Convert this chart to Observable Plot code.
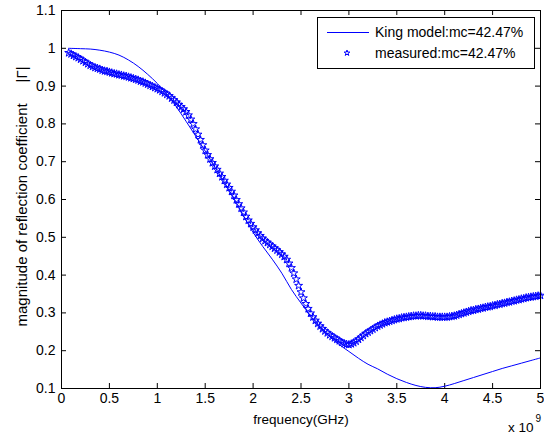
<!DOCTYPE html>
<html>
<head>
<meta charset="utf-8">
<script src="https://cdn.jsdelivr.net/npm/d3@7"></script>
<script src="https://cdn.jsdelivr.net/npm/@observablehq/plot@0.6"></script>
<style>
  html, body { margin: 0; padding: 0; background: #fff; }
  #chart { position: relative; width: 544px; height: 434px; }
</style>
</head>
<body>
<div id="chart"></div>
<script>
// ---- data (frequency in GHz; axis shows x 10^9 Hz) ----
const xTicks = [0, 0.5, 1, 1.5, 2, 2.5, 3, 3.5, 4, 4.5, 5];
const yTicks = [0.1, 0.2, 0.3, 0.4, 0.5, 0.6, 0.7, 0.8, 0.9, 1, 1.1];

const kingFreq = [0.075,0.2,0.3,0.4,0.5,0.6,0.7,0.8,0.9,1.0,1.1,1.2,1.3,1.4,1.5,1.6,1.7,1.8,1.9,2.0,
  2.1,2.2,2.3,2.4,2.5,2.6,2.7,2.8,2.9,3.0,3.1,3.2,3.3,3.4,3.5,3.6,3.7,3.8,3.9,4.0,
  4.1,4.2,4.3,4.4,4.5,4.6,4.7,4.8,4.9,5.0];
const kingMag = [1.000,0.999,0.998,0.995,0.990,0.982,0.969,0.952,0.931,0.907,0.878,0.845,0.807,0.768,0.728,0.686,0.645,0.603,0.557,0.513,
  0.476,0.442,0.405,0.362,0.326,0.292,0.262,0.237,0.216,0.198,0.180,0.164,0.152,0.138,0.126,0.116,0.108,0.103,0.102,0.106,
  0.113,0.121,0.129,0.137,0.145,0.153,0.160,0.167,0.174,0.181];

// measured frequencies in MHz
const measFreqMHz = [75,100,125,150,175,200,225,250,275,300,325,350,375,400,425,450,475,500,525,550,
  575,600,625,650,675,700,725,750,775,800,825,850,875,900,925,950,975,1000,1025,1050,
  1075,1100,1125,1150,1175,1200,1225,1250,1275,1300,1325,1350,1375,1400,1425,1450,1475,1500,1525,1550,
  1575,1600,1625,1650,1675,1700,1725,1750,1775,1800,1825,1850,1875,1900,1925,1950,1975,2000,2025,2050,
  2075,2100,2125,2150,2175,2200,2225,2250,2275,2300,2325,2350,2375,2400,2425,2450,2475,2500,2525,2550,
  2575,2600,2625,2650,2675,2700,2725,2750,2775,2800,2825,2850,2875,2900,2925,2950,2975,3000,3025,3050,
  3075,3100,3125,3150,3175,3200,3225,3250,3275,3300,3325,3350,3375,3400,3425,3450,3475,3500,3525,3550,
  3575,3600,3625,3650,3675,3700,3725,3750,3775,3800,3825,3850,3875,3900,3925,3950,3975,4000,4025,4050,
  4075,4100,4125,4150,4175,4200,4225,4250,4275,4300,4325,4350,4375,4400,4425,4450,4475,4500,4525,4550,
  4575,4600,4625,4650,4675,4700,4725,4750,4775,4800,4825,4850,4875,4900,4925,4950,4975,5000];
const measMag = [0.988,0.985,0.981,0.978,0.975,0.971,0.967,0.963,0.959,0.955,0.952,0.949,0.947,0.945,0.942,0.940,0.939,0.937,0.935,0.933,
  0.932,0.930,0.929,0.927,0.926,0.924,0.922,0.920,0.918,0.916,0.913,0.911,0.908,0.905,0.902,0.899,0.896,0.893,0.890,0.886,
  0.882,0.878,0.874,0.868,0.863,0.857,0.851,0.845,0.839,0.832,0.823,0.812,0.800,0.786,0.772,0.758,0.744,0.730,0.718,0.707,
  0.697,0.688,0.679,0.669,0.660,0.650,0.640,0.631,0.621,0.611,0.599,0.588,0.577,0.566,0.555,0.545,0.536,0.527,0.519,0.511,
  0.504,0.497,0.491,0.486,0.481,0.476,0.471,0.466,0.461,0.455,0.449,0.441,0.431,0.419,0.405,0.389,0.372,0.355,0.339,0.324,
  0.311,0.299,0.289,0.280,0.272,0.265,0.258,0.252,0.247,0.242,0.238,0.234,0.230,0.226,0.222,0.219,0.217,0.216,0.218,0.221,
  0.225,0.230,0.235,0.240,0.245,0.249,0.253,0.257,0.261,0.265,0.268,0.271,0.274,0.276,0.278,0.280,0.282,0.284,0.285,0.287,
  0.288,0.289,0.290,0.291,0.292,0.292,0.293,0.293,0.292,0.292,0.291,0.291,0.290,0.290,0.289,0.289,0.289,0.289,0.289,0.290,
  0.291,0.292,0.294,0.296,0.298,0.300,0.302,0.304,0.306,0.307,0.309,0.310,0.312,0.313,0.315,0.316,0.317,0.319,0.320,0.322,
  0.323,0.325,0.326,0.328,0.329,0.331,0.332,0.334,0.335,0.337,0.338,0.340,0.341,0.342,0.343,0.344,0.345,0.346];

const seriesNames = ["King model:mc=42.47%", "measured:mc=42.47%"];
const xLabel = "frequency(GHz)";
const yLabel = "magnitude of reflection coefficient\u00a0\u00a0\u00a0\u00a0\u00a0|\u0393|";

// ---- tables ----
const king = kingFreq.map((f, i) => ({f, v: kingMag[i]}));
const meas = measFreqMHz.map((m, i) => ({f: m / 1000, v: measMag[i]}));

// ---- layout ----
const W = 544, H = 434, mL = 61, mR = 4, mT = 10, mB = 46;
const pxX = (5 - 0) / (W - mL - mR);   // data units per pixel
const pxY = (1.1 - 0.1) / (H - mT - mB);
const tl = 5; // tick length px
const font = "Arial, 'Liberation Sans', Helvetica, sans-serif";
const blue = "#0000ff";

const plot = Plot.plot({
  width: W, height: H,
  marginLeft: mL, marginRight: mR, marginTop: mT, marginBottom: mB,
  style: {fontFamily: font, fontSize: "14px", color: "#000", background: "#fff", overflow: "visible"},
  x: {domain: [0, 5]},
  y: {domain: [0.1, 1.1]},
  marks: [
    Plot.axisX(xTicks, {tickSize: 0, tickPadding: 5, label: null, tickFormat: d => String(d), fontSize: 14}),
    Plot.axisY(yTicks, {tickSize: 0, tickPadding: 6, label: null, tickFormat: d => String(d), fontSize: 14}),
    // inward ticks on all four sides
    Plot.ruleX(xTicks, {x: d => d, y1: 0.1, y2: 0.1 + tl * pxY, stroke: "#000"}),
    Plot.ruleX(xTicks, {x: d => d, y1: 1.1, y2: 1.1 - tl * pxY, stroke: "#000"}),
    Plot.ruleY(yTicks, {y: d => d, x1: 0, x2: tl * pxX, stroke: "#000"}),
    Plot.ruleY(yTicks, {y: d => d, x1: 5, x2: 5 - tl * pxX, stroke: "#000"}),
    Plot.line(king, {x: "f", y: "v", stroke: blue, strokeWidth: 1, curve: "catmull-rom"}),
    Plot.dot(meas, {x: "f", y: "v", symbol: "star", r: 2.5, stroke: blue, fill: "none", strokeWidth: 1}),
    Plot.frame({stroke: "#000", strokeWidth: 1}),
    Plot.text([xLabel], {frameAnchor: "bottom", dy: 31, text: d => d, fontSize: 13.5, lineAnchor: "middle"}),
    Plot.text([yLabel], {frameAnchor: "left", dx: -39, dy: -3, rotate: -90, text: d => d, fontSize: 15, textAnchor: "middle", lineAnchor: "middle"}),
    Plot.text(["x 10"], {frameAnchor: "bottom-right", dx: -7, dy: 39, text: d => d, fontSize: 13.5, textAnchor: "end", lineAnchor: "middle"}),
    Plot.text(["9"], {frameAnchor: "bottom-right", dx: -5, dy: 30, text: d => d, fontSize: 10, textAnchor: "start", lineAnchor: "middle"})
  ]
});
document.getElementById("chart").appendChild(plot);

// ---- legend (drawn inside the svg) ----
const svg = d3.select(plot);
const lg = svg.append("g").attr("font-family", font).attr("font-size", 14).attr("text-anchor", "start");
const bx = 317, by = 17, bw = 217, bh = 51;
lg.append("rect").attr("x", bx + 0.5).attr("y", by + 0.5).attr("width", bw).attr("height", bh)
  .attr("fill", "#fff").attr("stroke", "#000");
const rowY = [by + 15, by + 36];
lg.append("line").attr("x1", 327).attr("x2", 369).attr("y1", rowY[0] + 0.5).attr("y2", rowY[0] + 0.5)
  .attr("stroke", blue).attr("stroke-width", 1);
lg.append("path").attr("d", d3.symbol(d3.symbolStar, Math.PI * 1.8 * 1.8)())
  .attr("transform", `translate(347,${rowY[1]})`).attr("fill", "none").attr("stroke", blue);
seriesNames.forEach((s, i) => {
  lg.append("text").attr("x", 375).attr("y", rowY[i]).attr("dy", "0.35em").attr("fill", "#000").text(s);
});
</script>
</body>
</html>
